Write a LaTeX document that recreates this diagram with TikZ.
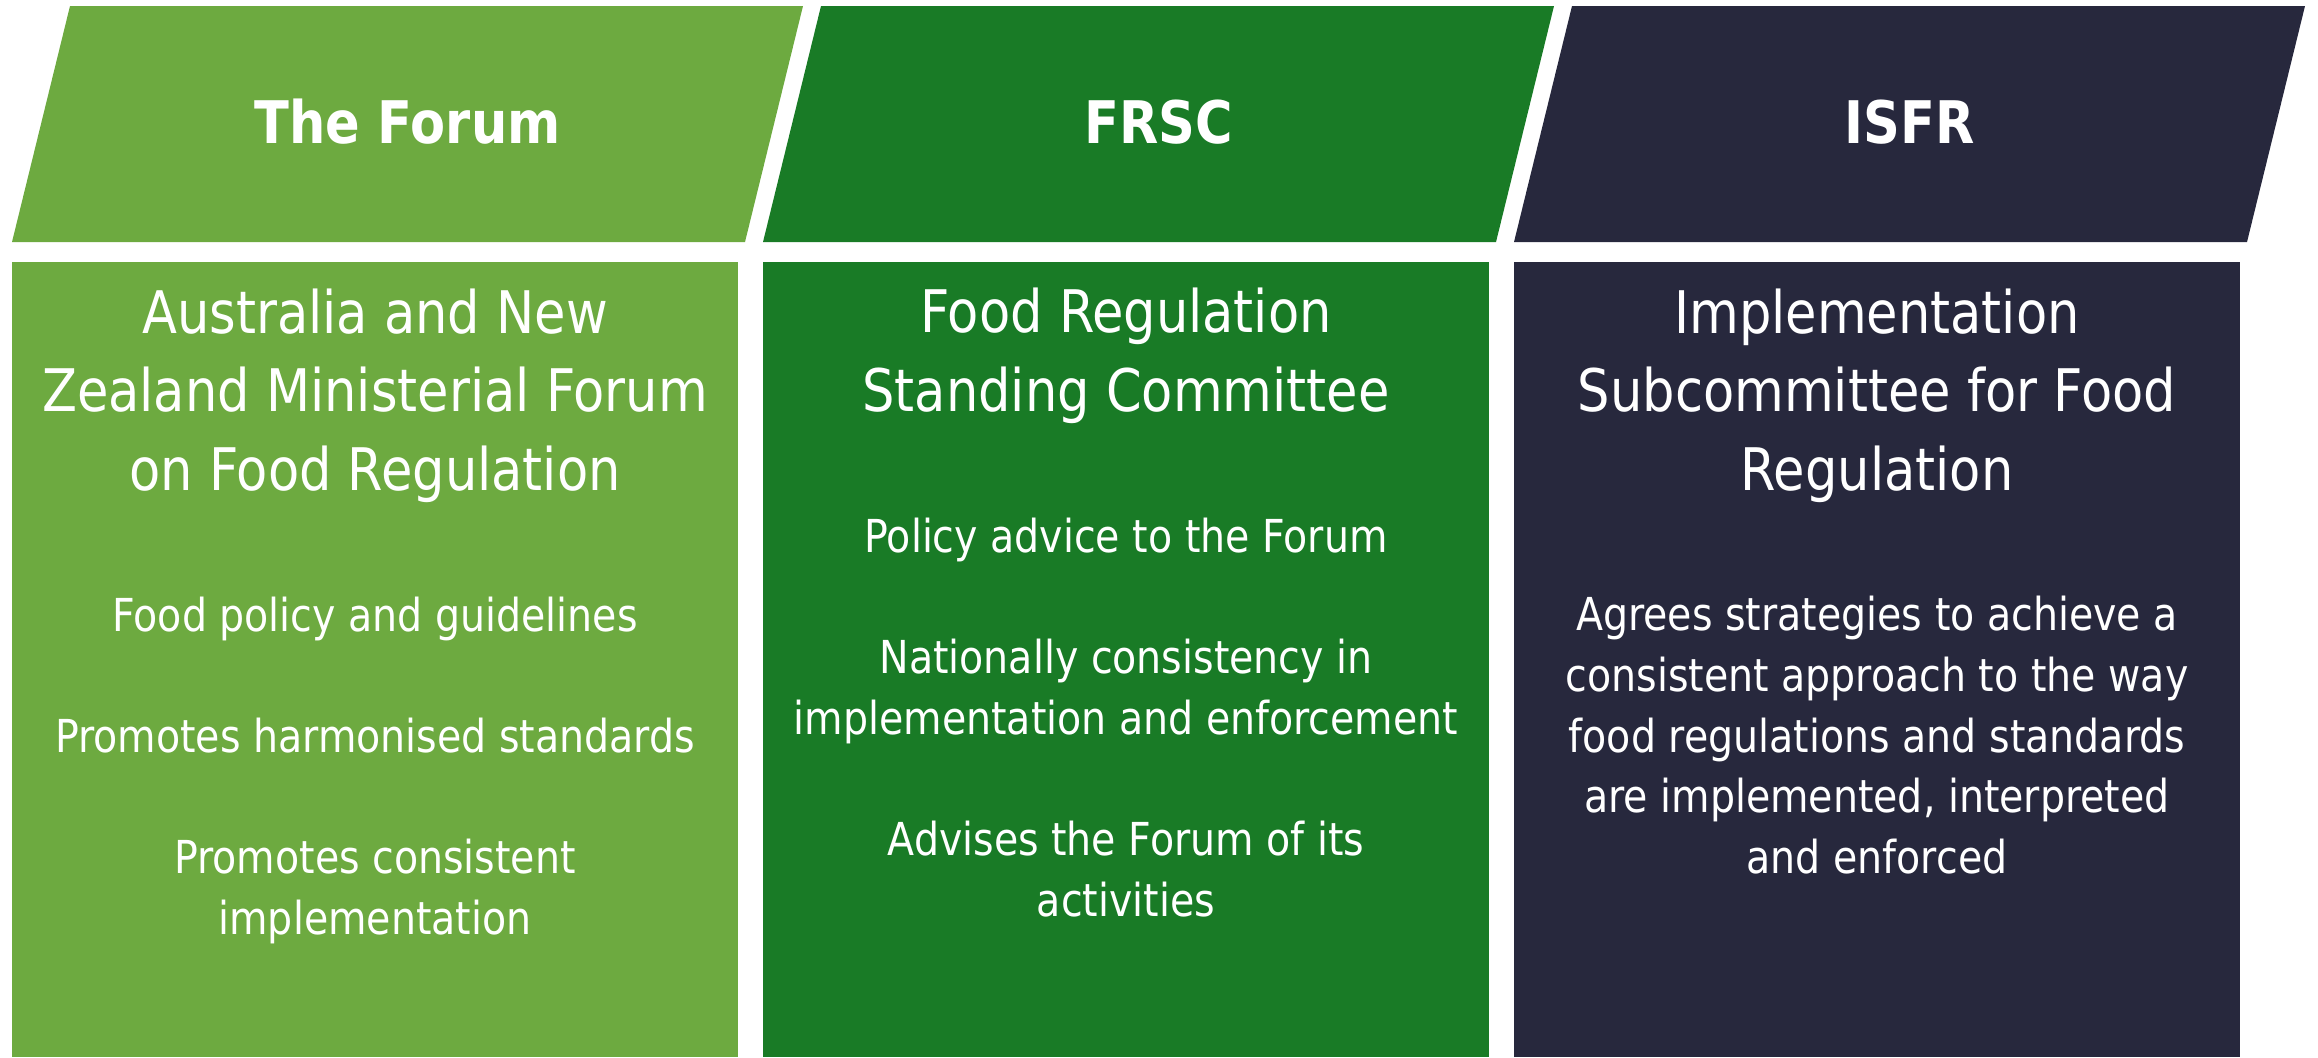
\documentclass[tikz,border=0pt]{standalone}
\usepackage{fontspec}
\setmainfont{DejaVu Sans}[FakeStretch=0.87]
\usepackage{xcolor}
\definecolor{forum-green}{RGB}{109,170,64}
\definecolor{frsc-green}{RGB}{25,123,38}
\definecolor{isfr-navy}{RGB}{39,40,61}
\usepackage{tikz}
\usetikzlibrary{positioning}

\begin{document}
\begin{tikzpicture}[
    x=0.1mm, y=-0.1mm,
    every node/.style={inner sep=0pt},
    panel/.style={minimum width=72.6mm, minimum height=79.5mm},
    title/.style={font=\fontsize{5.87mm}{7.85mm}\selectfont\bfseries, text=white, anchor=base},
    heading/.style={font=\fontsize{5.87mm}{7.85mm}\selectfont, text=white, align=center, anchor=base},
    body/.style={font=\fontsize{4.54mm}{6.06mm}\selectfont, text=white, align=center, anchor=base}
]

\useasboundingbox (0,0) rectangle (2318,1057);

% Header bands
\fill[forum-green] (12,242) -- (745,242) -- (803,6) -- (70,6) -- cycle;
\fill[frsc-green] (763,242) -- (1496,242) -- (1554,6) -- (821,6) -- cycle;
\fill[isfr-navy] (1514,242) -- (2247,242) -- (2305,6) -- (1572,6) -- cycle;

\node[title] (forum-title) at (407.5,143) {The Forum};
\node[title] (frsc-title) at (1158.5,143) {FRSC};
\node[title] (isfr-title) at (1909.5,143) {ISFR};

% Panels
\node[panel, fill=forum-green] (forum-box) at (375,659.5) {};
\node[panel, fill=frsc-green] (frsc-box) at (1126,659.5) {};
\node[panel, fill=isfr-navy] (isfr-box) at (1877,659.5) {};

% Full names (base = last line)
\node[heading] (forum-name) at ([yshift=-22.9mm]forum-box.north) {Australia and New\\Zealand Ministerial Forum\\on Food Regulation};
\node[heading] (frsc-name) at ([yshift=-15.0mm]frsc-box.north) {Food Regulation\\Standing Committee};
\node[heading] (isfr-name) at ([yshift=-22.9mm]isfr-box.north) {Implementation\\Subcommittee for Food\\Regulation};

% Roles
\node[body] (forum-roles) at ([yshift=-67.3mm]forum-box.north) {Food policy and guidelines\\[6.06mm]Promotes harmonised standards\\[6.06mm]Promotes consistent\\implementation};
\node[body] (frsc-roles) at ([yshift=-65.5mm]frsc-box.north) {Policy advice to the Forum\\[6.06mm]Nationally consistency in\\implementation and enforcement\\[6.06mm]Advises the Forum of its\\activities};
\node[body] (isfr-roles) at ([yshift=-61.2mm]isfr-box.north) {Agrees strategies to achieve a\\consistent approach to the way\\food regulations and standards\\are implemented, interpreted\\and enforced};

\end{tikzpicture}
\end{document}
